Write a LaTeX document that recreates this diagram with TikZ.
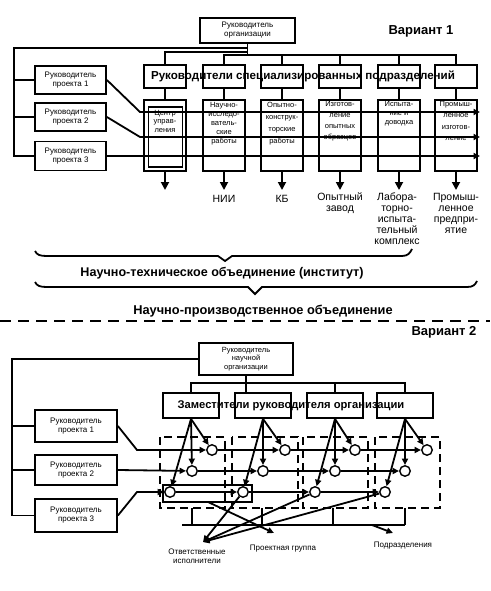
\documentclass[tikz,border=0pt]{standalone}
\usepackage{fontspec}
\setmainfont{Liberation Sans}
\usetikzlibrary{arrows.meta,calc}
\begin{document}
\begin{tikzpicture}[x=1pt,y=-1pt,
  ln/.style={line width=1.8pt},
  box/.style={draw,line width=1.8pt,inner sep=1pt,align=center},
  small/.style={font=\fontsize{8}{9}\selectfont},
  lt/.style={anchor=north,align=center,inner sep=0pt},
  olab/.style={anchor=north,align=center,inner sep=0pt,font=\fontsize{10.5}{11}\selectfont},
  big/.style={font=\bfseries\fontsize{13}{15}\selectfont},
  tip/.style={-{Triangle[length=8pt,width=8pt]}},
  stip/.style={-{Triangle[length=6.5pt,width=6pt]}},
  dsh/.style={line width=1.8pt,dash pattern=on 8pt off 5pt},
  circ/.style={draw,circle,line width=1.4pt,minimum size=10.5pt,inner sep=0pt,fill=white},
  slab/.style={align=center,inner sep=0pt,font=\fontsize{8}{8}\selectfont}]
\useasboundingbox (0,0) rectangle (490,591);
\fill[white] (0,0) rectangle (490,591);
% ================= Variant 1
\node[box,small,minimum width=95pt,minimum height=25pt] (org) at (247.5,30.5) {Руководитель\\организации};
\node[big] (v1) at (421,31) {Вариант 1};
\foreach \n/\y/\t/\h in {pm1/80/1/28,pm2/117/2/28,pm3/156/3/29}
  \node[box,small,minimum width=71pt,minimum height=\h pt] (\n) at (70.5,\y) {Руководитель\\проекта \t};
\foreach \i/\x in {1/165,2/224,3/282,4/340,5/399,6/456}{
  \node[box,minimum width=42pt,minimum height=23pt] (h\i) at (\x,76.5) {};
  \node[box,minimum width=42pt,minimum height=71pt] (l\i) at (\x,135.5) {};
  \coordinate (o\i) at (\x,190);
  \draw[ln] (h\i.south) -- (l\i.north);
  \draw[ln,tip] (l\i.south) -- (o\i);
}
\node[draw,line width=1.2pt,minimum width=34pt,minimum height=60pt] (l1in) at (165.5,137) {};
\node[font=\bfseries\fontsize{11.6}{13}\selectfont] (hdr) at (303,76.5) {Руководители специализированных подразделений};
% texts in lower boxes
\node[lt,font=\fontsize{7.5}{8.5}\selectfont] (t1) at (165,110) {Центр\\управ-\\ления};
\node[lt,font=\fontsize{7.5}{9}\selectfont] (t2) at (224,102) {Научно-\\исследо-\\ватель-\\ские\\работы};
\node[lt,font=\fontsize{7.5}{12}\selectfont] (t3) at (282,102) {Опытно-\\конструк-\\торские\\работы};
\node[lt,font=\fontsize{7.5}{11}\selectfont] (t4) at (340,101) {Изготов-\\ление\\опытных\\образцов};
\node[lt,font=\fontsize{7.5}{9}\selectfont] (t5) at (399,101) {Испыта-\\ние и\\доводка};
\node[lt,font=\fontsize{7.5}{11.5}\selectfont] (t6) at (456,101) {Промыш-\\ленное\\изготов-\\ление};
% output labels
\node[olab] (n2) at (224,195) {НИИ};
\node[olab] (n3) at (282,195) {КБ};
\node[olab] (n4) at (340,193) {Опытный\\завод};
\node[olab] (n5) at (397,193) {Лабора-\\торно-\\испыта-\\тельный\\комплекс};
\node[olab] (n6) at (456,193) {Промыш-\\ленное\\предпри-\\ятие};
% org connectors
\coordinate (b48) at (247.5,48);
\coordinate (b52) at (247.5,52);
\coordinate (b55) at (247.5,55);
\coordinate (lv) at (14,48);
\draw[ln] (org.south) -- (b55);
\draw[ln] (h2.north) |- (b55);
\draw[ln] (b55) -| (h6.north);
\foreach \i in {3,4,5} \draw[ln] (h\i.north) -- (h\i.north |- b55);
\draw[ln] (b52) -| (h1.north);
\draw[ln] (b48) -- (lv) -- (lv |- pm3.west) -- (pm3.west);
\draw[ln] (lv |- pm1.west) -- (pm1.west);
\draw[ln] (lv |- pm2.west) -- (pm2.west);
% project lines
\coordinate (k1) at (140,112); \coordinate (e1) at (480,112);
\coordinate (k2) at (140,137); \coordinate (e2) at (480,137);
\coordinate (e3) at (480,156);
\draw[ln,stip] (pm1.east) -- (k1) -- (e1);
\draw[ln,stip] (pm2.east) -- (k2) -- (e2);
\draw[ln,stip] (pm3.east) -- (e3);
% braces
\draw[ln] (35,251) .. controls (37,255) and (40,256) .. (47,256) -- (218,256) -- (225,261) -- (232,256) -- (402,256) .. controls (408,256) and (410,253) .. (412,249);
\node[font=\bfseries\fontsize{12.6}{14}\selectfont] (nto) at (222,273) {Научно-техническое объединение (институт)};
\draw[ln] (35,282) .. controls (37,286) and (40,287) .. (47,287) -- (248,287) -- (255,294) -- (262,287) -- (467,287) .. controls (473,287) and (475,285) .. (477,281);
\node[font=\bfseries\fontsize{12.8}{14}\selectfont] (npo) at (263,311) {Научно-производственное объединение};
\draw[line width=2pt,dash pattern=on 11pt off 7pt] (0,321) -- (490,321);
% ================= Variant 2
\node[big] (v2) at (444,332) {Вариант 2};
\node[box,minimum width=94pt,minimum height=32pt,font=\fontsize{7.5}{8.5}\selectfont] (org2) at (246,359) {Руководитель\\научной\\организации};
\node[box,small,minimum width=82pt,minimum height=32pt] (q1) at (76,426) {Руководитель\\проекта 1};
\node[box,small,minimum width=82pt,minimum height=30pt] (q2) at (76,470) {Руководитель\\проекта 2};
\node[box,small,minimum width=82pt,minimum height=33pt] (q3) at (76,515.5) {Руководитель\\проекта 3};
\foreach \i/\x in {1/191,2/263,3/335,4/405}
  \node[box,minimum width=56pt,minimum height=25pt] (d\i) at (\x,405.5) {};
\node[font=\bfseries\fontsize{11.2}{12}\selectfont] (dep) at (291,405.5) {Заместители руководителя организации};
\coordinate (c383) at (246,383);
\coordinate (lv2) at (12,359);
\draw[ln] (org2.south) -- (d2.north -| org2.south);
\draw[ln] (d1.north) |- (d4.north |- c383) -- (d4.north);
\draw[ln] (d3.north) -- (d3.north |- c383);
\draw[ln] (org2.west) -- (lv2) -- (lv2 |- q3.west) -- (q3.west);
\draw[ln] (lv2 |- q1.west) -- (q1.west);
\draw[ln] (lv2 |- q2.west) -- (q2.west);
% dashed columns
\draw[dsh] (160,437) rectangle (225,508);
\draw[dsh] (232,437) rectangle (298,508);
\draw[dsh] (303,437) rectangle (368,508);
\draw[dsh] (375,437) rectangle (440,508);
% project group rectangle
\node[draw,line width=1.5pt,minimum width=89pt,minimum height=17pt,inner sep=0pt] (pg) at (207.5,493.5) {};
% circles
\foreach \i/\a/\b/\c in {1/212/192/170,2/285/263/243,3/355/335/315,4/427/405/385}{
  \node[circ] (c1\i) at (\a,450) {};
  \node[circ] (c2\i) at (\b,471) {};
  \node[circ] (c3\i) at (\c,492) {};
}
% row lines
\coordinate (m1) at (137,450);
\coordinate (m3) at (137,492);
\draw[ln,stip] (q1.east) -- (m1) -- (c11);
\draw[ln,stip] (q2.east) -- (c21);
\draw[ln,stip] (q3.east) -- (m3) -- (c31);
\foreach \r in {1,2,3}{
  \draw[ln,stip] (c\r1) -- (c\r2);
  \draw[ln,stip] (c\r2) -- (c\r3);
  \draw[ln,stip] (c\r3) -- (c\r4);
}
% fan arrows
\foreach \i in {1,2,3,4}{
  \draw[ln,stip] (d\i.south) -- (c1\i);
  \draw[ln,stip] (d\i.south) -- (c2\i);
  \draw[ln,stip] (d\i.south) -- (c3\i);
}
% comb
\coordinate (cb0) at (182,525);
\coordinate (cb4) at (405,525);
\draw[ln] (cb0) -- (cb4);
\foreach \x in {192,262,333,405} \draw[ln] (\x,508) -- (\x,525);
% labels
\node[slab] (lbP) at (403,546) {Подразделения};
\node[slab] (lbG) at (283,549) {Проектная группа};
\node[slab,font=\fontsize{8}{8.5}\selectfont] (lbO) at (197,556) {Ответственные\\исполнители};
\coordinate (pS) at (372,525); \coordinate (pE) at (393,533);
\draw[ln,stip] (pS) -- (pE);
\coordinate (gS) at (208,502); \coordinate (gE) at (274,533);
\draw[ln,stip] (gS) -- (gE);
\coordinate (oE) at (203,542);
\draw[ln,stip] (c32) -- (oE);
\draw[ln,stip] (c33) -- (oE);
\draw[ln,stip] (c34) -- (oE);
\end{tikzpicture}
\end{document}
